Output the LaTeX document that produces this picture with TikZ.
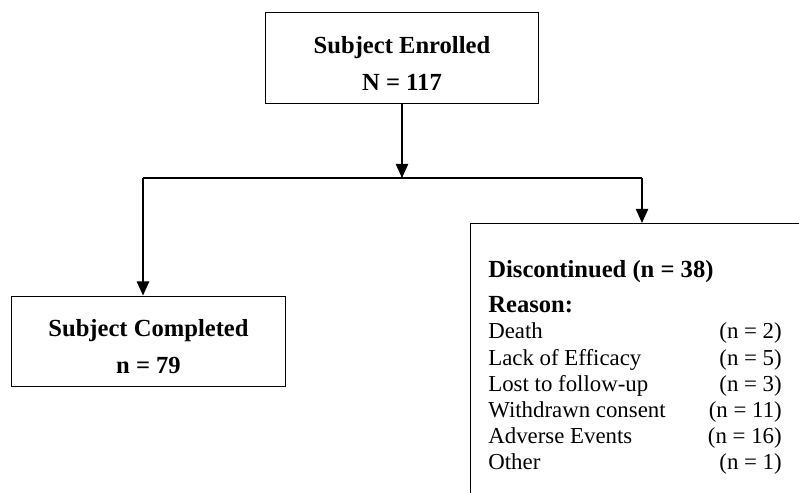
\documentclass[tikz,border=0pt]{standalone}
\usepackage{fontspec}
\setmainfont{Liberation Serif}
\usetikzlibrary{arrows.meta, positioning}

\begin{document}
\begin{tikzpicture}[
  x=0.02cm, y=-0.02cm,
  box/.style={draw, line width=0.8pt, minimum width=5.47cm,
              minimum height=1.81cm, align=center, inner sep=0pt,
              font=\fontsize{14}{21}\selectfont\bfseries},
  openbox/.style={draw, line width=0.8pt, anchor=north west,
                  minimum width=7cm, minimum height=6cm, inner sep=0pt},
  arr/.style={-{Triangle[width=7pt, length=8pt]}, line width=0.8pt},
  link/.style={line width=0.8pt}
]
\useasboundingbox (0,0) rectangle (799,493);

%% --- Enrolled ---
\node[box] (enrolled) at (402,58) {\rule{0pt}{16pt}Subject Enrolled\\N = 117};

%% --- Completed ---
\node[box] (completed) at (148.5,341.5) {\rule{0pt}{16pt}Subject Completed\\n = 79};

%% --- Discontinued (box runs off the page) ---
\node[openbox] (disc) at (470,223) {};
\node[anchor=base west, inner sep=0pt, font=\fontsize{13}{14.9}\selectfont]
  (reasons) at (488,278) {%
  \begin{tabular*}{167pt}[t]{@{}l@{\extracolsep{\fill}}r@{}}
    \multicolumn{2}{@{}l@{}}{\fontsize{14}{17}\selectfont\bfseries Discontinued (n = 38)}\\[4.9pt]
    \multicolumn{2}{@{}l@{}}{\fontsize{14}{17}\selectfont\bfseries Reason:}\\
    Death              & (n = 2)\\
    Lack of Efficacy   & (n = 5)\\
    Lost to follow-up  & (n = 3)\\
    Withdrawn consent  & (n = 11)\\
    Adverse Events     & (n = 16)\\
    Other              & (n = 1)
  \end{tabular*}};

%% --- Split points ---
\coordinate (split)  at (402,178);
\coordinate (lsplit) at (143,178);
\coordinate (rsplit) at (642,178);

%% --- Connectors ---
\draw[arr]  (enrolled.south) -- (split);
\draw[link] (lsplit) -- (rsplit);
\draw[arr]  (lsplit) -- (lsplit |- completed.north);
\draw[arr]  (rsplit) -- (rsplit |- disc.north);

\end{tikzpicture}
\end{document}
